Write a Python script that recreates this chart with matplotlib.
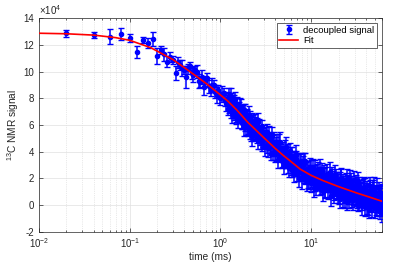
import matplotlib
matplotlib.use("Agg")
import matplotlib.pyplot as plt
from matplotlib.ticker import LogLocator, NullFormatter, FixedLocator

plt.rcParams["font.family"] = ["Liberation Sans", "DejaVu Sans"]
plt.rcParams["axes.unicode_minus"] = False
plt.rcParams["mathtext.fontset"] = "custom"
plt.rcParams["mathtext.rm"] = "Liberation Sans"

# signal values are in units of 1e4 (the axis carries the x10^4 multiplier)
# sparse early points (0.02 .. 1.16 ms)
t_early = [0.02, 0.04, 0.06, 0.08, 0.10, 0.12, 0.14, 0.16, 0.18, 0.20,
           0.22, 0.24, 0.26, 0.28, 0.30, 0.32, 0.34, 0.36, 0.38, 0.40,
           0.42, 0.44, 0.46, 0.48, 0.50, 0.52, 0.55, 0.58, 0.60, 0.62,
           0.65, 0.68, 0.71, 0.74, 0.78, 0.81, 0.84, 0.88, 0.91, 0.95,
           1.00, 1.04, 1.08, 1.12, 1.16]
y_early = [12.88, 12.75, 12.62, 12.80, 12.55, 11.45, 12.37, 12.15, 12.45, 11.20,
           11.60, 11.30, 10.75, 11.10, 10.90, 9.90, 10.70, 10.50, 10.30, 10.10,
           9.60, 10.20, 10.40, 9.90, 9.75, 10.10, 10.00, 9.30, 9.25, 9.60,
           8.87, 9.30, 9.50, 8.90, 8.60, 9.00, 9.00, 8.50, 8.25, 8.60,
           8.00, 8.30, 8.38, 7.90, 7.63]
err_early = [0.25, 0.20, 0.58, 0.45, 0.30, 0.45, 0.20, 0.35, 0.50, 0.60,
             0.30, 0.50, 0.40, 0.35, 0.30, 0.50, 0.40, 0.35, 0.60, 0.30,
             0.80, 0.40, 0.30, 0.45, 0.50, 0.30, 0.50, 0.50, 0.40, 0.50,
             0.60, 0.40, 0.40, 0.50, 0.45, 0.50, 0.40, 0.50, 0.60, 0.40,
             0.50, 0.60, 0.40, 0.50, 0.60]

# dense band (1.2 .. 61 ms)
t_dense = [1.20, 1.23, 1.26, 1.29, 1.32, 1.35, 1.38, 1.41, 1.44, 1.47,
           1.50, 1.54, 1.58, 1.62, 1.66, 1.70, 1.74, 1.78, 1.82, 1.86,
           1.90, 1.95, 2.00, 2.05, 2.10, 2.15, 2.20, 2.25, 2.30, 2.36,
           2.43, 2.50, 2.57, 2.64, 2.72, 2.80, 2.88, 2.96, 3.05, 3.14,
           3.23, 3.33, 3.43, 3.53, 3.64, 3.75, 3.87, 4.00, 4.12, 4.25,
           4.38, 4.51, 4.65, 4.79, 4.94, 5.09, 5.25, 5.41, 5.57, 5.74,
           5.92, 6.10, 6.29, 6.48, 6.68, 6.88, 7.09, 7.31, 7.53, 7.76,
           8.00, 8.24, 8.49, 8.75, 9.02, 9.30, 9.58, 9.87, 10.2, 10.5,
           10.8, 11.1, 11.5, 11.8, 12.2, 12.6, 13.0, 13.4, 13.8, 14.2,
           14.7, 15.1, 15.6, 16.1, 16.6, 17.1, 17.6, 18.2, 18.7, 19.3,
           19.9, 20.5, 21.2, 21.8, 22.5, 23.2, 23.9, 24.6, 25.4, 26.2,
           27.0, 27.8, 28.7, 29.6, 30.5, 31.4, 32.4, 33.4, 34.4, 35.5,
           36.6, 37.7, 38.9, 40.1, 41.3, 42.6, 43.9, 45.3, 46.7, 48.1,
           49.6, 51.1, 52.7, 54.3, 56.0, 57.7, 59.5, 61.0]
y_dense = [8.05, 7.43, 7.76, 7.14, 7.92, 7.51, 7.19, 7.88, 7.17, 6.61,
           7.45, 7.21, 6.63, 7.34, 6.76, 6.93, 6.15, 6.68, 7.11, 6.18,
           6.22, 6.63, 5.80, 6.18, 6.56, 5.34, 6.18, 5.76, 5.95, 5.42,
           6.05, 5.12, 6.19, 5.41, 5.13, 5.55, 4.62, 5.29, 4.95, 5.37,
           4.49, 4.86, 5.22, 4.44, 3.81, 4.68, 4.39, 3.85, 4.52, 3.90,
           4.62, 3.84, 4.01, 3.29, 4.01, 3.39, 4.37, 3.45, 2.98, 3.56,
           3.69, 2.62, 3.24, 3.32, 2.70, 3.43, 2.70, 2.03, 3.05, 2.70,
           2.40, 3.20, 2.10, 2.60, 2.69, 1.79, 2.29, 2.69, 1.90, 2.36,
           1.27, 2.64, 2.14, 1.76, 2.31, 1.42, 2.58, 1.74, 2.05, 1.12,
           2.13, 1.50, 1.71, 2.48, 1.14, 1.86, 0.83, 1.64, 1.96, 1.07,
           1.59, 0.46, 1.92, 1.24, 1.61, 0.68, 1.30, 1.92, 0.83, 0.50,
           1.52, 1.04, 0.61, 1.87, 0.74, 1.16, 0.13, 1.40, 0.72, 1.09,
           0.26, 1.38, -0.15, 0.82, 1.05, 0.27, 1.39, 0.41, -0.07, 1.00,
           0.52, -0.01, 1.36, 0.13, 0.65, -0.38, 0.49, 0.87]
err_dense = [0.45, 0.55, 0.40, 0.60, 0.50, 0.45, 0.65, 0.40, 0.55, 0.50,
             0.60, 0.45, 0.50, 0.70, 0.40, 0.55, 0.45, 0.60, 0.50, 0.65,
             0.45, 0.55, 0.60, 0.40, 0.50, 0.55, 0.75, 0.45, 0.50, 0.60,
             0.55, 0.45, 0.70, 0.50, 0.60, 0.45, 0.55, 0.50, 0.65, 0.45,
             0.60, 0.50, 0.70, 0.55, 0.45, 0.60, 0.50, 0.65, 0.55, 0.45,
             0.70, 0.50, 0.60, 0.55, 0.45, 0.65, 0.75, 0.50, 0.60, 0.55,
             0.65, 0.50, 0.60, 0.70, 0.55, 0.60, 0.50, 0.65, 0.75, 0.55,
             0.60, 0.70, 0.55, 0.65, 0.60, 0.50, 0.70, 0.65, 0.55, 0.60,
             0.70, 0.75, 0.60, 0.65, 0.55, 0.70, 0.60, 0.65, 0.75, 0.60,
             0.70, 0.55, 0.65, 0.75, 0.60, 0.70, 0.65, 0.55, 0.75, 0.60,
             0.70, 0.65, 0.75, 0.60, 0.70, 0.55, 0.65, 0.80, 0.60, 0.70,
             0.65, 0.75, 0.60, 0.70, 0.65, 0.75, 0.60, 0.70, 0.65, 0.80,
             0.60, 0.75, 0.65, 0.70, 0.75, 0.60, 0.70, 0.65, 0.80, 0.70,
             0.65, 0.75, 0.70, 0.65, 0.75, 0.70, 0.80, 0.70]

# more points of the band between 1.2 and 10 ms
t_mid = [1.215, 1.245, 1.275, 1.305, 1.335, 1.365, 1.395, 1.425, 1.455, 1.485,
         1.52, 1.56, 1.60, 1.64, 1.68, 1.72, 1.76, 1.80, 1.84, 1.88,
         1.925, 1.975, 2.025, 2.075, 2.125, 2.175, 2.225, 2.275, 2.33, 2.395,
         2.465, 2.535, 2.605, 2.68, 2.76, 2.84, 2.92, 3.005, 3.095, 3.185,
         3.28, 3.38, 3.48, 3.585, 3.695, 3.81, 3.935, 4.06, 4.185, 4.315,
         4.445, 4.58, 4.72, 4.865, 5.015, 5.17, 5.33, 5.49, 5.655, 5.83,
         6.01, 6.195, 6.385, 6.58, 6.78, 6.985, 7.2, 7.42, 7.645, 7.88,
         8.12, 8.365, 8.62, 8.885, 9.16, 9.44, 9.725, 10.03]
y_mid = [7.22, 8.15, 7.43, 8.21, 6.79, 7.73, 6.96, 7.45, 7.94, 6.83,
         7.61, 6.42, 7.19, 6.70, 7.37, 6.24, 6.97, 5.85, 6.57, 6.95,
         5.83, 6.64, 5.92, 6.75, 5.48, 6.16, 5.15, 6.28, 5.46, 6.29,
         5.46, 5.88, 4.80, 5.87, 4.89, 5.91, 4.93, 5.45, 4.36, 5.03,
         5.45, 4.27, 4.93, 4.40, 5.22, 3.84, 4.75, 3.91, 4.74, 3.41,
         4.18, 4.75, 3.43, 4.10, 2.93, 4.16, 3.29, 3.92, 2.80, 4.03,
         2.91, 3.68, 2.31, 3.34, 3.72, 2.39, 3.22, 2.44, 3.33, 1.93,
         3.03, 2.38, 3.28, 1.77, 2.67, 1.87, 2.87, 1.67]
err_mid = [0.50, 0.60, 0.45, 0.55, 0.65, 0.50, 0.60, 0.45, 0.55, 0.60,
           0.50, 0.65, 0.55, 0.45, 0.60, 0.55, 0.50, 0.65, 0.45, 0.60,
           0.55, 0.50, 0.60, 0.65, 0.50, 0.55, 0.70, 0.50, 0.60, 0.55,
           0.50, 0.65, 0.60, 0.55, 0.70, 0.50, 0.60, 0.55, 0.65, 0.50,
           0.60, 0.70, 0.55, 0.65, 0.60, 0.50, 0.70, 0.60, 0.55, 0.65,
           0.60, 0.70, 0.55, 0.65, 0.60, 0.70, 0.55, 0.65, 0.70, 0.60,
           0.65, 0.70, 0.60, 0.65, 0.75, 0.60, 0.70, 0.65, 0.60, 0.75,
           0.65, 0.70, 0.60, 0.75, 0.65, 0.70, 0.65, 0.70]

# extra points filling the wide tail of the band (10 .. 61 ms)
t_tail = [10.35, 10.65, 10.95, 11.3, 11.65, 12.0, 12.4, 12.8, 13.2, 13.6,
          14.0, 14.45, 14.9, 15.35, 15.85, 16.35, 16.85, 17.35, 17.9, 18.45,
          19.0, 19.6, 20.2, 20.85, 21.5, 22.15, 22.85, 23.55, 24.25, 25.0,
          25.8, 26.6, 27.4, 28.25, 29.15, 30.05, 30.95, 31.9, 32.9, 33.9,
          34.95, 36.05, 37.15, 38.3, 39.5, 40.7, 41.95, 43.25, 44.6, 46.0,
          47.4, 48.85, 50.35, 51.9, 53.5, 55.15, 56.85, 58.6, 60.3,
          11.0, 11.9, 12.7, 13.5, 14.3, 15.2, 16.0, 16.9, 17.8, 18.8,
          19.7, 20.7, 21.7, 22.7, 23.7, 24.8, 25.9, 27.1, 28.3, 29.5,
          30.8, 32.1, 33.5, 34.9, 36.3, 37.8, 39.3, 40.9, 42.5, 44.1,
          45.9, 47.6, 49.4, 51.3, 53.2, 55.2, 57.2, 59.2, 60.7]
y_tail = [2.78, 1.69, 2.25, 1.36, 2.37, 1.83, 2.69, 1.55, 1.96, 1.02,
          2.28, 1.70, 2.36, 1.13, 1.89, 0.66, 2.02, 1.59, 1.11, 2.32,
          1.19, 1.75, 0.77, 1.44, 2.00, 0.52, 1.54, 1.01, 1.73, 0.25,
          1.27, 1.89, 0.70, 1.42, 0.34, 1.01, 1.52, 0.44, 1.81, 0.63,
          1.00, -0.07, 1.19, 0.61, 1.38, 0.11, 0.88, -0.35, 1.12, 0.54,
          0.11, 1.33, -0.25, 0.72, 0.24, 1.01, -0.17, 0.70, -0.57,
          1.70, 2.50, 1.81, 2.23, 1.31, 1.79, 1.33, 2.17, 1.32, 1.76,
          0.90, 1.80, 1.05, 1.40, 0.56, 1.56, 1.01, 1.62, 0.57, 1.23,
          0.63, 1.34, 0.30, 0.96, 0.42, 1.28, 0.49, 1.01, -0.03, 0.79,
          0.20, 1.16, 0.37, 0.78, -0.15, 0.56, 0.03, 0.80, 0.07]
err_tail = [0.70, 0.65, 0.75, 0.60, 0.70, 0.65, 0.75, 0.70, 0.60, 0.75,
            0.70, 0.65, 0.75, 0.70, 0.60, 0.75, 0.70, 0.65, 0.75, 0.70,
            0.65, 0.75, 0.70, 0.60, 0.75, 0.70, 0.65, 0.75, 0.70, 0.65,
            0.75, 0.70, 0.65, 0.75, 0.70, 0.60, 0.75, 0.70, 0.65, 0.75,
            0.70, 0.65, 0.75, 0.70, 0.65, 0.75, 0.70, 0.65, 0.75, 0.70,
            0.65, 0.75, 0.70, 0.65, 0.75, 0.70, 0.65, 0.75, 0.70,
            0.65, 0.70, 0.75, 0.65, 0.70, 0.60, 0.75, 0.70, 0.65, 0.70,
            0.75, 0.65, 0.70, 0.60, 0.75, 0.70, 0.65, 0.75, 0.70, 0.65,
            0.70, 0.75, 0.65, 0.70, 0.60, 0.75, 0.70, 0.65, 0.75, 0.70,
            0.65, 0.70, 0.75, 0.65, 0.70, 0.75, 0.65, 0.70, 0.75]

# fitted curve
fit_t = [0.01, 0.02, 0.04, 0.07, 0.1, 0.17, 0.3, 0.45, 0.7, 1.0, 1.2, 1.5,
         2.0, 2.43, 3.0, 4.0, 5.0, 5.88, 7.6, 10, 13.6, 20, 31.8, 45, 61]
fit_y = [12.88, 12.84, 12.74, 12.55, 12.35, 11.8, 10.9, 10.05, 9.1, 8.25,
         7.8, 7.15, 6.2, 5.65, 5.05, 4.25, 3.68, 3.3, 2.68, 2.22, 1.82, 1.38,
         0.9, 0.57, 0.27]

t_all = t_early + t_dense + t_mid + t_tail
y_all = y_early + y_dense + y_mid + y_tail
err_all = err_early + err_dense + err_mid + err_tail

dark = "#262626"
fig = plt.figure(figsize=(4.07, 2.71), dpi=100)
ax = fig.add_axes([39 / 407, 1 - 231.7 / 271, 343.5 / 407, 213.4 / 271])

eb = ax.errorbar(t_all, y_all, yerr=err_all, fmt="o", color="#0000FF", ms=3.0,
                 elinewidth=1.1, capsize=2.3, capthick=1.0, zorder=3)
fl, = ax.plot(fit_t, fit_y, color="#FF0000", lw=1.2, zorder=4)

ax.set_xscale("log")
ax.set_xlim(0.01, 61)
ax.set_ylim(-2, 14)
ax.yaxis.set_major_locator(FixedLocator([-2, 0, 2, 4, 6, 8, 10, 12, 14]))
ax.xaxis.set_major_locator(LogLocator(base=10, numticks=10))
ax.xaxis.set_minor_locator(LogLocator(base=10, subs=range(2, 10), numticks=20))
ax.xaxis.set_minor_formatter(NullFormatter())

ax.grid(True, which="major", color="#E0E0E0", lw=0.5, ls="-", zorder=0)
ax.grid(True, which="minor", axis="x", color="#D4D4D4", lw=0.5, ls=":", zorder=0)
ax.set_axisbelow(True)

ax.tick_params(which="both", direction="in", top=True, right=True,
               colors=dark, labelsize=7, width=0.5)
ax.tick_params(which="major", length=3)
ax.tick_params(which="minor", length=1.6)
for sp in ax.spines.values():
    sp.set_color(dark)
    sp.set_linewidth(0.5)

ax.set_xlabel("time (ms)", fontsize=7.3, color=dark, labelpad=1.5)
ax.set_ylabel("$^{13}$C NMR signal", fontsize=7.3, color=dark, labelpad=2)
ax.text(0.0, 1.006, r"$\times10^{4}$", transform=ax.transAxes, ha="left",
        va="bottom", fontsize=7, color=dark)

leg = ax.legend([eb, fl], ["decoupled signal", "Fit"], loc="upper right",
                bbox_to_anchor=(0.984, 0.979), borderaxespad=0, fontsize=6.8,
                frameon=True, fancybox=False, framealpha=1, edgecolor=dark,
                handlelength=2.0, borderpad=0.3, labelspacing=0.15,
                handletextpad=0.5)
leg.get_frame().set_linewidth(0.5)

fig.savefig("out.png", dpi=100)
